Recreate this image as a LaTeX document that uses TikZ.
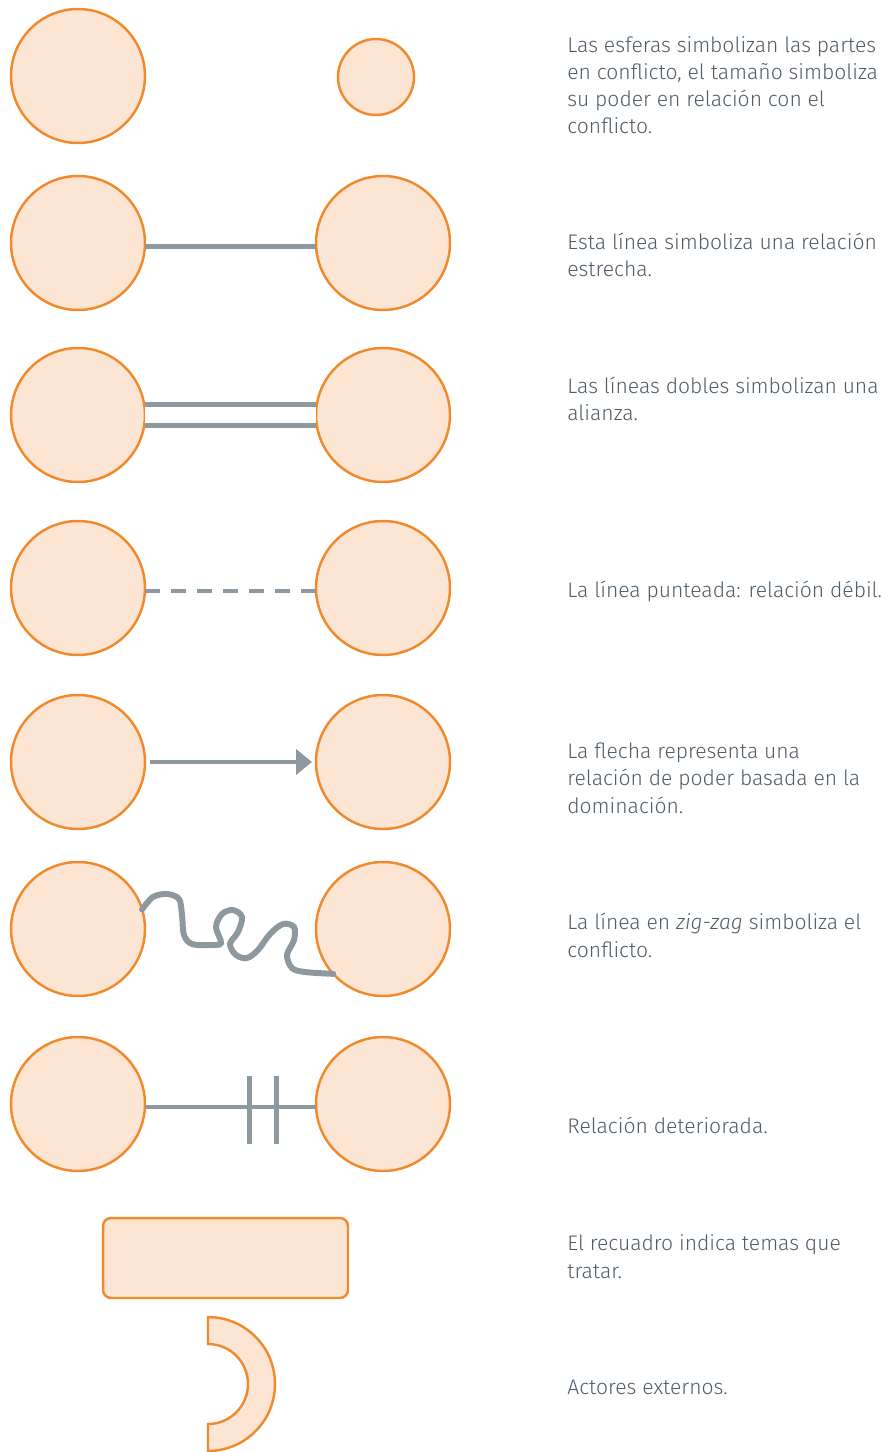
\documentclass[tikz,border=0pt]{standalone}
\usepackage{fontspec}
\setmainfont{Fira Sans}[UprightFont=* Light, ItalicFont=* Light Italic]
\usetikzlibrary{arrows.meta}
\definecolor{naranja}{HTML}{F08A2C}
\definecolor{relleno}{HTML}{FDE5D4}
\definecolor{gris}{HTML}{8E999F}
\definecolor{texto}{HTML}{4F5D68}
\begin{document}
\begin{tikzpicture}[x=0.02cm, y=-0.02cm,
    parte/.style={circle, draw=naranja, fill=relleno, line width=1.4pt, minimum size=2.68cm, inner sep=0pt, outer sep=0pt},
    lazo/.style={draw=gris, line width=2.8pt},
    nota/.style={anchor=base west, align=left, inner sep=0pt, text=texto, font=\fontsize{12}{15.4}\selectfont}]
        \useasboundingbox (0,0) rectangle (892,1452);
        % esferas (la base de cada nota es su ultima linea)
        \node[parte] (p1a) at (78, 76) {};
        \node[parte, minimum size=1.52cm] (p1b) at (376, 77) {};
        \node[nota] (t1) at (567, 134) {Las esferas simbolizan las partes\\en conflicto, el tamaño simboliza\\su poder en relación con el\\conflicto.};
        % relacion estrecha
        \node[parte] (p2a) at (78, 243) {};
        \node[parte] (p2b) at (383, 243) {};
        \draw[lazo] ([yshift=-0.07cm]p2a.east) -- ([yshift=-0.07cm]p2b.west);
        \node[nota] (t2) at (567, 277) {Esta línea simboliza una relación\\estrecha.};
        % alianza
        \node[parte] (p3a) at (78, 415) {};
        \node[parte] (p3b) at (383, 415) {};
        \draw[lazo, double=white, double distance=0.32cm] (p3a) -- (p3b);
        \node[nota] (t3) at (567, 421) {Las líneas dobles simbolizan una\\alianza.};
        % relacion debil
        \node[parte] (p4a) at (78, 588) {};
        \node[parte] (p4b) at (383, 588) {};
        \draw[lazo, dash pattern=on 0.3cm off 0.22cm] ([yshift=-0.06cm]p4a.east) -- ([yshift=-0.06cm]p4b.west);
        \node[nota] (t4) at (567, 597) {La línea punteada: relación débil.};
        % dominacion
        \node[parte] (p5a) at (78, 762) {};
        \node[parte] (p5b) at (383, 762) {};
        \draw[lazo, -{Triangle[length=0.32cm, width=0.5cm]}, shorten <=0.1cm, shorten >=0.08cm] (p5a) -- (p5b);
        \node[nota] (t5) at (567, 813) {La flecha representa una\\relación de poder basada en la\\dominación.};
        % conflicto
        \node[parte] (p6a) at (78, 929) {};
        \node[parte] (p6b) at (383, 929) {};
        \draw[lazo, line width=3.4pt, line cap=round, smooth, tension=0.55] plot coordinates {(p6a.17) (153,897) (167,894) (179,899) (182,915) (184,935) (192,944) (210,945) (221,943) (216,927) (222,914) (233,910) (242,917) (238,932) (230,944) (236,955) (247,958) (258,950) (270,934) (283,924) (294,927) (294,940) (287,955) (292,968) (305,972) (p6b.222)};
        \node[nota] (t6) at (567, 957) {La línea en \textit{zig-zag} simboliza el\\conflicto.};
        % relacion deteriorada
        \node[parte] (p7a) at (78, 1104) {};
        \node[parte] (p7b) at (383, 1104) {};
        \draw[lazo] ([yshift=-0.06cm]p7a.east) -- ([yshift=-0.06cm]p7b.west)
            coordinate[pos=0.61] (k1) coordinate[pos=0.77] (k2);
        \draw[lazo] ([yshift=0.62cm]k1) -- ([yshift=-0.74cm]k1);
        \draw[lazo] ([yshift=0.62cm]k2) -- ([yshift=-0.74cm]k2);
        \node[nota] (t7) at (567, 1133) {Relación deteriorada.};
        % temas
        \node[draw=naranja, fill=relleno, line width=1.4pt, rounded corners=0.16cm, minimum width=4.9cm, minimum height=1.6cm] (r8) at (225.5, 1258) {};
        \node[nota] (t8) at (567, 1278) {El recuadro indica temas que\\tratar.};
        % actores externos
        \draw[draw=naranja, fill=relleno, line width=1.4pt] (208, 1317) arc[start angle=90, end angle=-90, radius=1.34cm]
            -- (208, 1424) arc[start angle=-90, end angle=90, radius=0.8cm] -- cycle;
        \node[nota] (t9) at (567, 1394) {Actores externos.};
    \end{tikzpicture}
\end{document}
